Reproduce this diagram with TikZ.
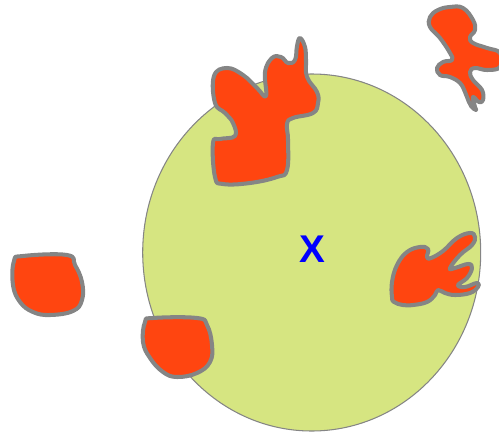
\documentclass[tikz,border=0pt]{standalone}
\usepackage{fontspec}
\setsansfont{Liberation Sans}
\usepackage{xcolor}
\definecolor{diskfill}{HTML}{D6E581}
\definecolor{blobfill}{HTML}{FF4510}
\definecolor{blobline}{HTML}{858585}

\begin{document}
\begin{tikzpicture}[
    x=0.02cm, y=-0.02cm,
    disk/.style={draw=blobline, line width=0.6pt, fill=diskfill},
    blob/.style={draw=blobline, line width=2.3pt, fill=blobfill, line join=round},
    xlabel/.style={font=\sffamily\bfseries\fontsize{22}{22}\selectfont, text=blue}
]
    \useasboundingbox (0,0) rectangle (499,432);

    % the big disk
    \draw[disk] (311.7,252.5) ellipse [x radius=169, y radius=178.5];

    % blob on top of the disk
    \draw[blob] plot[smooth cycle, tension=0.7] coordinates {
        (214,76) (227,68) (243,75) (257,88) (266,96) (265,72) (272,58)
        (281,57) (288,63) (295,60) (297,46) (300,38) (305,47) (306,60)
        (307,77) (317,92) (318,103) (313,113) (293,118) (287,124)
        (288,140) (287,170) (277,177) (250,183) (223,184) (215,177)
        (213,143) (220,139) (235,136) (233,123) (225,113) (215,103)};

    % blob in the top right corner
    \draw[blob] plot[smooth cycle, tension=0.7] coordinates {
        (438,10) (450,7) (463,8) (473,20) (475,30) (470,37) (473,43)
        (487,48) (500,53) (500,67) (487,70) (475,68) (470,72) (473,80)
        (482,90) (483,100) (479,102) (473,97) (475,107) (476,110)
        (471,106) (467,97) (465,92) (460,83) (450,77) (440,75) (437,68)
        (443,62) (452,60) (450,53) (440,38) (430,27) (430,17)};

    % blob at the right of the disk
    \draw[blob] plot[smooth cycle, tension=0.7] coordinates {
        (392,297) (392,282) (397,265) (407,252) (420,247) (428,249)
        (427,257) (431,258) (443,251) (457,238) (470,233) (475,237)
        (472,245) (460,255) (450,268) (455,268) (468,264) (472,268)
        (467,278) (458,285) (465,287) (477,283) (478,287) (470,293)
        (455,295) (445,293) (438,290) (435,295) (427,302) (413,305)
        (403,305) (394,302)};

    % blob at the left
    \draw[blob] plot[smooth cycle, tension=0.7] coordinates {
        (14,261) (23,256) (67,255) (75,265) (82,282) (82,300) (73,311)
        (50,315) (33,312) (20,302) (13,285)};

    % blob on the lower left rim of the disk
    \draw[blob] plot[smooth cycle, tension=0.7] coordinates {
        (145,322) (153,318) (197,318) (207,325) (212,345) (210,362)
        (197,373) (177,377) (163,372) (150,358) (143,342)};

    \node[xlabel] (centre) at (312,249) {X};
\end{tikzpicture}
\end{document}
